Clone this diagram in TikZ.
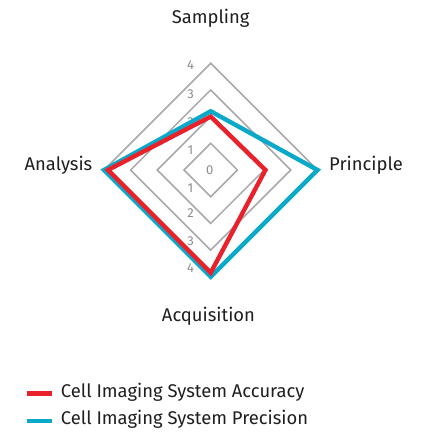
\documentclass[tikz,border=0pt]{standalone}
\usepackage{fontspec}
\setmainfont{Fira Sans}
\begin{document}
\begin{tikzpicture}[x=1pt,y=-1pt,
  gridline/.style={fill=black!34,even odd rule},
  ticklabel/.style={text=black!45,font=\fontsize{13}{15}\selectfont,inner sep=0pt},
  axislabel/.style={text=black!88,font=\fontsize{18.4}{22}\selectfont,inner sep=0pt},
  legendlabel/.style={text=black!88,font=\fontsize{18.4}{22}\selectfont,inner sep=0pt,anchor=west},
  series/.style={line width=4.4pt,line join=miter,miter limit=10}]
\useasboundingbox (0,0) rectangle (423,432);
\def\cx{210.7}\def\cy{170}\def\u{26.7}\def\h{1.1}
% grid diamonds for levels 1..4, filled as thin rings
\foreach \k in {1,2,3,4}{
  \fill[gridline] (\cx,\cy-\k*\u-\h) -- (\cx+\k*\u+\h,\cy) -- (\cx,\cy+\k*\u+\h) -- (\cx-\k*\u-\h,\cy) -- cycle
                  (\cx,\cy-\k*\u+\h) -- (\cx+\k*\u-\h,\cy) -- (\cx,\cy+\k*\u-\h) -- (\cx-\k*\u+\h,\cy) -- cycle;
}
% scale labels
\node[ticklabel] (t0) at (\cx-1,170) {0};
\foreach \n/\y in {1/150,2/122,3/94,4/65}{
  \node[ticklabel] (tu\n) at (190.5,\y) {\n};
}
\foreach \n/\y in {1/188,2/213,3/241,4/268}{
  \node[ticklabel] (td\n) at (190.5,\y) {\n};
}
% data polygons
\definecolor{seriesred}{HTML}{E8212A}
\definecolor{seriescyan}{HTML}{0AA9C9}
\draw[series,draw=seriescyan] (\cx,\cy-2.2*\u) -- (\cx+4*\u,\cy) -- (\cx,\cy+4*\u) -- (\cx-4*\u,\cy) -- cycle;
\draw[series,draw=seriesred] (\cx,\cy-2.0*\u) -- (\cx+2.05*\u,\cy) -- (\cx,\cy+3.85*\u) -- (\cx-3.85*\u,\cy) -- cycle;
% axis names
\node[axislabel] (sampling) at (210.7,18) {Sampling};
\node[axislabel,anchor=west] (principle) at (329,165) {Principle};
\node[axislabel,anchor=east] (analysis) at (92.5,165) {Analysis};
\node[axislabel] (acquisition) at (208.5,316) {Acquisition};
% legend keys and texts
\fill[seriesred] (26.7,391.2) rectangle (52,395.5);
\node[legendlabel] (leg1) at (60.7,392) {Cell Imaging System Accuracy};
\fill[seriescyan] (26.7,418.6) rectangle (52,422.9);
\node[legendlabel] (leg2) at (60.7,419.5) {Cell Imaging System Precision};
\end{tikzpicture}
\end{document}
